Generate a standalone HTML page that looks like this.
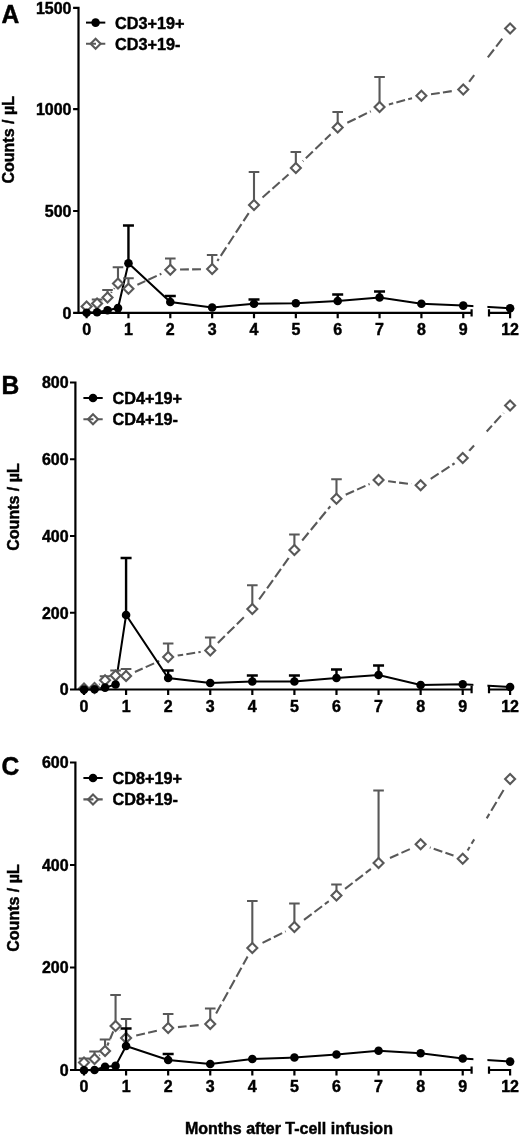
<!DOCTYPE html>
<html lang="en"><head><meta charset="utf-8"><title>T-cell counts after infusion</title>
<style>html,body{margin:0;padding:0;background:#fff}body{width:520px;height:1136px;overflow:hidden}svg{display:block}text{font-family:"Liberation Sans", Arial, sans-serif;font-weight:bold;fill:#000;stroke:#000;stroke-width:0.45px}</style>
</head><body>
<svg width="520" height="1136" viewBox="0 0 520 1136">
<defs><filter id="soft" x="0" y="0" width="520" height="1136" filterUnits="userSpaceOnUse"><feGaussianBlur stdDeviation="0.45"/></filter></defs>
<rect width="520" height="1136" fill="#fff"/>
<g filter="url(#soft)">
<g id="panel-A">
<g fill="none" stroke="#595959" stroke-width="2.1">
<line x1="86.6" y1="306.5" x2="97.06" y2="303.5" stroke-dasharray="9.04 3.26" stroke-dashoffset="3"/>
<line x1="97.06" y1="303.5" x2="107.52" y2="297.4" stroke-dasharray="9.38 3.38" stroke-dashoffset="3"/>
<line x1="107.52" y1="297.4" x2="117.99" y2="283.6" stroke-dasharray="10.06 3.63" stroke-dashoffset="3"/>
<line x1="117.99" y1="283.6" x2="128.45" y2="288.8" stroke-dasharray="9.27 3.34" stroke-dashoffset="3"/>
<line x1="128.45" y1="288.8" x2="170.3" y2="269.7" stroke-dasharray="9.22 3.33" stroke-dashoffset="3.25"/>
<line x1="170.3" y1="269.7" x2="212.15" y2="269" stroke-dasharray="8.89 3.21" stroke-dashoffset="2.4"/>
<line x1="212.15" y1="269" x2="254" y2="205" stroke-dasharray="10.17 3.67" stroke-dashoffset="11.98"/>
<line x1="254" y1="205" x2="295.85" y2="168" stroke-dasharray="9.71 3.5" stroke-dashoffset="1.82"/>
<line x1="295.85" y1="168" x2="337.7" y2="127.5" stroke-dasharray="9.79 3.53" stroke-dashoffset="12.75"/>
<line x1="337.7" y1="127.5" x2="379.55" y2="107" stroke-dasharray="9.26 3.34" stroke-dashoffset="1.9"/>
<line x1="379.55" y1="107" x2="421.4" y2="95.7" stroke-dasharray="9.03 3.25" stroke-dashoffset="7.16"/>
<line x1="421.4" y1="95.7" x2="463.25" y2="89.4" stroke-dasharray="8.94 3.22" stroke-dashoffset="2.56"/>
<line x1="463.25" y1="89.4" x2="474.2" y2="75.17" stroke-dasharray="10.05 3.62" stroke-dashoffset="5.67"/>
<line x1="486.7" y1="58.92" x2="510.1" y2="28.5" stroke-dasharray="10.05 3.62" stroke-dashoffset="11.83"/>
</g>
<g fill="#fff">
<circle cx="86.6" cy="306.5" r="6.0"/>
<circle cx="97.06" cy="303.5" r="6.0"/>
<circle cx="107.52" cy="297.4" r="6.0"/>
<circle cx="117.99" cy="283.6" r="6.0"/>
<circle cx="128.45" cy="288.8" r="9.8"/>
<circle cx="170.3" cy="269.7" r="9.8"/>
<circle cx="212.15" cy="269" r="9.8"/>
<circle cx="254" cy="205" r="9.8"/>
<circle cx="295.85" cy="168" r="9.8"/>
<circle cx="337.7" cy="127.5" r="9.8"/>
<circle cx="379.55" cy="107" r="9.8"/>
<circle cx="421.4" cy="95.7" r="9.8"/>
<circle cx="463.25" cy="89.4" r="9.8"/>
<circle cx="510.1" cy="28.5" r="9.8"/>
</g>
<polyline points="86.6,312.7 97.06,312.2 107.52,310.2 117.99,308.1 128.45,263.2 170.3,302 212.15,307.5 254,303.75 295.85,303.25 337.7,301 379.55,297.5 421.4,303.7 463.25,305.6 510.1,308.3" fill="none" stroke="#000" stroke-width="2.0"/>
<rect x="473.4" y="288.8" width="14" height="22" fill="#fff"/>
<g stroke="#595959" stroke-width="2.1" fill="#fff">
<path d="M97.06 303.5V299.5M91.76 299.5H102.36M107.52 297.4V290M102.22 290H112.82M117.99 283.6V267.2M112.69 267.2H123.29M128.45 288.8V278.3M123.15 278.3H133.75M170.3 269.7V258.5M165 258.5H175.6M212.15 269V255M206.85 255H217.45M254 205V172M248.7 172H259.3M295.85 168V152M290.55 152H301.15M337.7 127.5V112M332.4 112H343M379.55 107V77M374.25 77H384.85" fill="none"/>
<path d="M86.6 301.5L91.6 306.5L86.6 311.5L81.6 306.5Z"/>
<path d="M97.06 298.5L102.06 303.5L97.06 308.5L92.06 303.5Z"/>
<path d="M107.52 292.4L112.52 297.4L107.52 302.4L102.52 297.4Z"/>
<path d="M117.99 278.6L122.99 283.6L117.99 288.6L112.99 283.6Z"/>
<path d="M128.45 283.8L133.45 288.8L128.45 293.8L123.45 288.8Z"/>
<path d="M170.3 264.7L175.3 269.7L170.3 274.7L165.3 269.7Z"/>
<path d="M212.15 264L217.15 269L212.15 274L207.15 269Z"/>
<path d="M254 200L259 205L254 210L249 205Z"/>
<path d="M295.85 163L300.85 168L295.85 173L290.85 168Z"/>
<path d="M337.7 122.5L342.7 127.5L337.7 132.5L332.7 127.5Z"/>
<path d="M379.55 102L384.55 107L379.55 112L374.55 107Z"/>
<path d="M421.4 90.7L426.4 95.7L421.4 100.7L416.4 95.7Z"/>
<path d="M463.25 84.4L468.25 89.4L463.25 94.4L458.25 89.4Z"/>
<path d="M510.1 23.5L515.1 28.5L510.1 33.5L505.1 28.5Z"/>
</g>
<path d="M128.45 263.2V225.5M122.95 225.5H133.95M170.3 302V296M164.8 296H175.8M254 303.75V299.5M248.5 299.5H259.5M337.7 301V294.5M332.2 294.5H343.2M379.55 297.5V291.5M374.05 291.5H385.05" fill="none" stroke="#000" stroke-width="2.4"/>
<g fill="#000">
<circle cx="86.6" cy="312.7" r="4.3"/>
<circle cx="97.06" cy="312.2" r="4.3"/>
<circle cx="107.52" cy="310.2" r="4.3"/>
<circle cx="117.99" cy="308.1" r="4.3"/>
<circle cx="128.45" cy="263.2" r="4.3"/>
<circle cx="170.3" cy="302" r="4.3"/>
<circle cx="212.15" cy="307.5" r="4.3"/>
<circle cx="254" cy="303.75" r="4.3"/>
<circle cx="295.85" cy="303.25" r="4.3"/>
<circle cx="337.7" cy="301" r="4.3"/>
<circle cx="379.55" cy="297.5" r="4.3"/>
<circle cx="421.4" cy="303.7" r="4.3"/>
<circle cx="463.25" cy="305.6" r="4.3"/>
<circle cx="510.1" cy="308.3" r="4.3"/>
</g>
<path d="M78.5 6.7V313.9M73.1 7.8H78.5M73.1 109.2H78.5M73.1 211H78.5M73.1 312.8H78.5M78.5 312.8H471.6M471.6 309.3V316.6M489 312.8H511.2M489 309.3V316.6M86.6 312.8V318.2M128.45 312.8V318.2M170.3 312.8V318.2M212.15 312.8V318.2M254 312.8V318.2M295.85 312.8V318.2M337.7 312.8V318.2M379.55 312.8V318.2M421.4 312.8V318.2M463.25 312.8V318.2M510.1 312.8V318.2" stroke="#000" stroke-width="2.2" fill="none"/>
<g font-size="16" text-anchor="end">
<text transform="translate(71.5 13.75) scale(1 1.0)">1500</text>
<text transform="translate(71.5 115.15) scale(1 1.0)">1000</text>
<text transform="translate(71.5 216.95) scale(1 1.0)">500</text>
<text transform="translate(71.5 318.75) scale(1 1.0)">0</text>
</g>
<g font-size="16" text-anchor="middle">
<text transform="translate(86.6 335.1) scale(1 1.0)">0</text>
<text transform="translate(128.45 335.1) scale(1 1.0)">1</text>
<text transform="translate(170.3 335.1) scale(1 1.0)">2</text>
<text transform="translate(212.15 335.1) scale(1 1.0)">3</text>
<text transform="translate(254 335.1) scale(1 1.0)">4</text>
<text transform="translate(295.85 335.1) scale(1 1.0)">5</text>
<text transform="translate(337.7 335.1) scale(1 1.0)">6</text>
<text transform="translate(379.55 335.1) scale(1 1.0)">7</text>
<text transform="translate(421.4 335.1) scale(1 1.0)">8</text>
<text transform="translate(463.25 335.1) scale(1 1.0)">9</text>
<text transform="translate(510.1 335.1) scale(1 1.0)">12</text>
</g>
<text font-size="16" text-anchor="middle" transform="translate(14.2 139.8) rotate(-90)">Counts / µL</text>
<text font-size="24.6" transform="translate(1.4 22.9) scale(1 1.03)">A</text>
<path d="M86 22.6H105.3" stroke="#000" stroke-width="2.0"/>
<circle cx="95.6" cy="22.6" r="4.3" fill="#000"/>
<path d="M86 43.8H96M100.2 43.8H105.3" stroke="#595959" stroke-width="2.1"/>
<path d="M95.6 38.8L100.6 43.8L95.6 48.8L90.6 43.8Z" stroke="#595959" stroke-width="2.1" fill="none"/>
<g font-size="16.25">
<text x="115" y="28.6">CD3+19+</text>
<text x="115" y="49.5">CD3+19-</text>
</g>
</g>
<g id="panel-B">
<g fill="none" stroke="#595959" stroke-width="2.1">
<line x1="84" y1="688.6" x2="94.52" y2="688" stroke-dasharray="8.9 3.21" stroke-dashoffset="3"/>
<line x1="94.52" y1="688" x2="105.04" y2="680.3" stroke-dasharray="9.55 3.44" stroke-dashoffset="3"/>
<line x1="105.04" y1="680.3" x2="115.56" y2="675.5" stroke-dasharray="9.22 3.33" stroke-dashoffset="3"/>
<line x1="115.56" y1="675.5" x2="126.08" y2="676" stroke-dasharray="8.9 3.21" stroke-dashoffset="3"/>
<line x1="126.08" y1="676" x2="168.16" y2="657" stroke-dasharray="9.22 3.32" stroke-dashoffset="3.54"/>
<line x1="168.16" y1="657" x2="210.24" y2="650.5" stroke-dasharray="8.94 3.22" stroke-dashoffset="5.92"/>
<line x1="210.24" y1="650.5" x2="252.32" y2="609" stroke-dasharray="9.81 3.54" stroke-dashoffset="2.65"/>
<line x1="252.32" y1="609" x2="294.4" y2="550" stroke-dasharray="10.11 3.64" stroke-dashoffset="2.05"/>
<line x1="294.4" y1="550" x2="336.48" y2="498.8" stroke-dasharray="9.99 3.6" stroke-dashoffset="1.3"/>
<line x1="336.48" y1="498.8" x2="378.56" y2="480" stroke-dasharray="9.21 3.32" stroke-dashoffset="2.54"/>
<line x1="378.56" y1="480" x2="420.64" y2="485.3" stroke-dasharray="8.92 3.22" stroke-dashoffset="3.58"/>
<line x1="420.64" y1="485.3" x2="462.72" y2="458" stroke-dasharray="9.46 3.41" stroke-dashoffset="0.86"/>
<line x1="462.72" y1="458" x2="474.2" y2="445.28" stroke-dasharray="9.91 3.57" stroke-dashoffset="6.49"/>
<line x1="486.7" y1="431.43" x2="510.1" y2="405.5" stroke-dasharray="9.91 3.57" stroke-dashoffset="2.08"/>
</g>
<g fill="#fff">
<circle cx="84" cy="688.6" r="6.0"/>
<circle cx="94.52" cy="688" r="6.0"/>
<circle cx="105.04" cy="680.3" r="6.0"/>
<circle cx="115.56" cy="675.5" r="6.0"/>
<circle cx="126.08" cy="676" r="9.8"/>
<circle cx="168.16" cy="657" r="9.8"/>
<circle cx="210.24" cy="650.5" r="9.8"/>
<circle cx="252.32" cy="609" r="9.8"/>
<circle cx="294.4" cy="550" r="9.8"/>
<circle cx="336.48" cy="498.8" r="9.8"/>
<circle cx="378.56" cy="480" r="9.8"/>
<circle cx="420.64" cy="485.3" r="9.8"/>
<circle cx="462.72" cy="458" r="9.8"/>
<circle cx="510.1" cy="405.5" r="9.8"/>
</g>
<polyline points="84,689.6 94.52,689.3 105.04,687.6 115.56,684.5 126.08,615 168.16,678 210.24,683 252.32,681.5 294.4,681.5 336.48,678 378.56,675 420.64,685 462.72,684.2 510.1,687" fill="none" stroke="#000" stroke-width="2.0"/>
<rect x="473.4" y="665.5" width="14" height="22" fill="#fff"/>
<g stroke="#595959" stroke-width="2.1" fill="#fff">
<path d="M105.04 680.3V676.2M99.74 676.2H110.34M115.56 675.5V670.5M110.26 670.5H120.86M126.08 676V669M120.78 669H131.38M168.16 657V643.5M162.86 643.5H173.46M210.24 650.5V637.5M204.94 637.5H215.54M252.32 609V585.3M247.02 585.3H257.62M294.4 550V534.5M289.1 534.5H299.7M336.48 498.8V479.3M331.18 479.3H341.78" fill="none"/>
<path d="M84 683.6L89 688.6L84 693.6L79 688.6Z"/>
<path d="M94.52 683L99.52 688L94.52 693L89.52 688Z"/>
<path d="M105.04 675.3L110.04 680.3L105.04 685.3L100.04 680.3Z"/>
<path d="M115.56 670.5L120.56 675.5L115.56 680.5L110.56 675.5Z"/>
<path d="M126.08 671L131.08 676L126.08 681L121.08 676Z"/>
<path d="M168.16 652L173.16 657L168.16 662L163.16 657Z"/>
<path d="M210.24 645.5L215.24 650.5L210.24 655.5L205.24 650.5Z"/>
<path d="M252.32 604L257.32 609L252.32 614L247.32 609Z"/>
<path d="M294.4 545L299.4 550L294.4 555L289.4 550Z"/>
<path d="M336.48 493.8L341.48 498.8L336.48 503.8L331.48 498.8Z"/>
<path d="M378.56 475L383.56 480L378.56 485L373.56 480Z"/>
<path d="M420.64 480.3L425.64 485.3L420.64 490.3L415.64 485.3Z"/>
<path d="M462.72 453L467.72 458L462.72 463L457.72 458Z"/>
<path d="M510.1 400.5L515.1 405.5L510.1 410.5L505.1 405.5Z"/>
</g>
<path d="M126.08 615V558M120.58 558H131.58M168.16 678V670.5M162.66 670.5H173.66M252.32 681.5V675.5M246.82 675.5H257.82M294.4 681.5V675.5M288.9 675.5H299.9M336.48 678V669.5M330.98 669.5H341.98M378.56 675V665.5M373.06 665.5H384.06" fill="none" stroke="#000" stroke-width="2.4"/>
<g fill="#000">
<circle cx="84" cy="689.6" r="4.3"/>
<circle cx="94.52" cy="689.3" r="4.3"/>
<circle cx="105.04" cy="687.6" r="4.3"/>
<circle cx="115.56" cy="684.5" r="4.3"/>
<circle cx="126.08" cy="615" r="4.3"/>
<circle cx="168.16" cy="678" r="4.3"/>
<circle cx="210.24" cy="683" r="4.3"/>
<circle cx="252.32" cy="681.5" r="4.3"/>
<circle cx="294.4" cy="681.5" r="4.3"/>
<circle cx="336.48" cy="678" r="4.3"/>
<circle cx="378.56" cy="675" r="4.3"/>
<circle cx="420.64" cy="685" r="4.3"/>
<circle cx="462.72" cy="684.2" r="4.3"/>
<circle cx="510.1" cy="687" r="4.3"/>
</g>
<path d="M75.4 381.4V690.6M70 382.5H75.4M70 459.25H75.4M70 536H75.4M70 612.75H75.4M70 689.5H75.4M75.4 689.5H471.6M471.6 686V693.3M489 689.5H511.2M489 686V693.3M84 689.5V694.9M126.08 689.5V694.9M168.16 689.5V694.9M210.24 689.5V694.9M252.32 689.5V694.9M294.4 689.5V694.9M336.48 689.5V694.9M378.56 689.5V694.9M420.64 689.5V694.9M462.72 689.5V694.9M510.1 689.5V694.9" stroke="#000" stroke-width="2.2" fill="none"/>
<g font-size="16" text-anchor="end">
<text transform="translate(68.6 388.45) scale(1 1.0)">800</text>
<text transform="translate(68.6 465.2) scale(1 1.0)">600</text>
<text transform="translate(68.6 541.95) scale(1 1.0)">400</text>
<text transform="translate(68.6 618.7) scale(1 1.0)">200</text>
<text transform="translate(68.6 695.45) scale(1 1.0)">0</text>
</g>
<g font-size="16" text-anchor="middle">
<text transform="translate(84 711.8) scale(1 1.0)">0</text>
<text transform="translate(126.08 711.8) scale(1 1.0)">1</text>
<text transform="translate(168.16 711.8) scale(1 1.0)">2</text>
<text transform="translate(210.24 711.8) scale(1 1.0)">3</text>
<text transform="translate(252.32 711.8) scale(1 1.0)">4</text>
<text transform="translate(294.4 711.8) scale(1 1.0)">5</text>
<text transform="translate(336.48 711.8) scale(1 1.0)">6</text>
<text transform="translate(378.56 711.8) scale(1 1.0)">7</text>
<text transform="translate(420.64 711.8) scale(1 1.0)">8</text>
<text transform="translate(462.72 711.8) scale(1 1.0)">9</text>
<text transform="translate(510.1 711.8) scale(1 1.0)">12</text>
</g>
<text font-size="16" text-anchor="middle" transform="translate(18.8 507) rotate(-90)">Counts / µL</text>
<text font-size="24.6" transform="translate(1.5 394.3) scale(1 1.03)">B</text>
<path d="M83.4 398H102.7" stroke="#000" stroke-width="2.0"/>
<circle cx="93" cy="398" r="4.3" fill="#000"/>
<path d="M83.4 419.2H93.4M97.6 419.2H102.7" stroke="#595959" stroke-width="2.1"/>
<path d="M93 414.2L98 419.2L93 424.2L88 419.2Z" stroke="#595959" stroke-width="2.1" fill="none"/>
<g font-size="16.25">
<text x="112.5" y="404">CD4+19+</text>
<text x="112.5" y="424.9">CD4+19-</text>
</g>
</g>
<g id="panel-C">
<g fill="none" stroke="#595959" stroke-width="2.1">
<line x1="84" y1="1062.5" x2="94.52" y2="1059" stroke-dasharray="9.09 3.28" stroke-dashoffset="3"/>
<line x1="94.52" y1="1059" x2="105.04" y2="1051" stroke-dasharray="9.58 3.46" stroke-dashoffset="3"/>
<line x1="105.04" y1="1051" x2="115.56" y2="1026" stroke-dasharray="10.42 3.76" stroke-dashoffset="1.18"/>
<line x1="115.56" y1="1026" x2="126.08" y2="1038" stroke-dasharray="9.94 3.58" stroke-dashoffset="8.02"/>
<line x1="126.08" y1="1038" x2="168.16" y2="1028" stroke-dasharray="9 3.24" stroke-dashoffset="1.84"/>
<line x1="168.16" y1="1028" x2="210.24" y2="1024" stroke-dasharray="8.91 3.21" stroke-dashoffset="2.52"/>
<line x1="210.24" y1="1024" x2="252.32" y2="948" stroke-dasharray="10.28 3.71" stroke-dashoffset="1.89"/>
<line x1="252.32" y1="948" x2="294.4" y2="927" stroke-dasharray="9.28 3.34" stroke-dashoffset="1.22"/>
<line x1="294.4" y1="927" x2="336.48" y2="895.5" stroke-dasharray="9.57 3.45" stroke-dashoffset="1.02"/>
<line x1="336.48" y1="895.5" x2="378.56" y2="863" stroke-dasharray="9.6 3.46" stroke-dashoffset="2.26"/>
<line x1="378.56" y1="863" x2="420.64" y2="844.3" stroke-dasharray="9.21 3.32" stroke-dashoffset="0.03"/>
<line x1="420.64" y1="844.3" x2="462.72" y2="858.7" stroke-dasharray="9.1 3.28" stroke-dashoffset="10.95"/>
<line x1="462.72" y1="858.7" x2="474.2" y2="839.39" stroke-dasharray="10.24 3.69" stroke-dashoffset="10.56"/>
<line x1="486.7" y1="818.36" x2="510.1" y2="779" stroke-dasharray="10.24 3.69" stroke-dashoffset="5.06"/>
</g>
<g fill="#fff">
<circle cx="84" cy="1062.5" r="6.0"/>
<circle cx="94.52" cy="1059" r="6.0"/>
<circle cx="105.04" cy="1051" r="6.0"/>
<circle cx="115.56" cy="1026" r="6.0"/>
<circle cx="126.08" cy="1038" r="9.8"/>
<circle cx="168.16" cy="1028" r="9.8"/>
<circle cx="210.24" cy="1024" r="9.8"/>
<circle cx="252.32" cy="948" r="9.8"/>
<circle cx="294.4" cy="927" r="9.8"/>
<circle cx="336.48" cy="895.5" r="9.8"/>
<circle cx="378.56" cy="863" r="9.8"/>
<circle cx="420.64" cy="844.3" r="9.8"/>
<circle cx="462.72" cy="858.7" r="9.8"/>
<circle cx="510.1" cy="779" r="9.8"/>
</g>
<polyline points="84,1070.2 94.52,1070 105.04,1066.8 115.56,1065.9 126.08,1046 168.16,1060 210.24,1064 252.32,1059 294.4,1057.5 336.48,1054.5 378.56,1050.7 420.64,1053.3 462.72,1058.5 510.1,1061.6" fill="none" stroke="#000" stroke-width="2.0"/>
<rect x="473.4" y="1046" width="14" height="22" fill="#fff"/>
<g stroke="#595959" stroke-width="2.1" fill="#fff">
<path d="M84 1062.5V1058.5M78.7 1058.5H89.3M94.52 1059V1051.5M89.22 1051.5H99.82M105.04 1051V1039.5M99.74 1039.5H110.34M115.56 1026V995M110.26 995H120.86M126.08 1038V1019M120.78 1019H131.38M168.16 1028V1014M162.86 1014H173.46M210.24 1024V1008.5M204.94 1008.5H215.54M252.32 948V901M247.02 901H257.62M294.4 927V903.5M289.1 903.5H299.7M336.48 895.5V884.5M331.18 884.5H341.78M378.56 863V790.5M373.26 790.5H383.86" fill="none"/>
<path d="M84 1057.5L89 1062.5L84 1067.5L79 1062.5Z"/>
<path d="M94.52 1054L99.52 1059L94.52 1064L89.52 1059Z"/>
<path d="M105.04 1046L110.04 1051L105.04 1056L100.04 1051Z"/>
<path d="M115.56 1021L120.56 1026L115.56 1031L110.56 1026Z"/>
<path d="M126.08 1033L131.08 1038L126.08 1043L121.08 1038Z"/>
<path d="M168.16 1023L173.16 1028L168.16 1033L163.16 1028Z"/>
<path d="M210.24 1019L215.24 1024L210.24 1029L205.24 1024Z"/>
<path d="M252.32 943L257.32 948L252.32 953L247.32 948Z"/>
<path d="M294.4 922L299.4 927L294.4 932L289.4 927Z"/>
<path d="M336.48 890.5L341.48 895.5L336.48 900.5L331.48 895.5Z"/>
<path d="M378.56 858L383.56 863L378.56 868L373.56 863Z"/>
<path d="M420.64 839.3L425.64 844.3L420.64 849.3L415.64 844.3Z"/>
<path d="M462.72 853.7L467.72 858.7L462.72 863.7L457.72 858.7Z"/>
<path d="M510.1 774L515.1 779L510.1 784L505.1 779Z"/>
</g>
<path d="M126.08 1046V1028.5M120.58 1028.5H131.58M168.16 1060V1054M162.66 1054H173.66" fill="none" stroke="#000" stroke-width="2.4"/>
<g fill="#000">
<circle cx="84" cy="1070.2" r="4.3"/>
<circle cx="94.52" cy="1070" r="4.3"/>
<circle cx="105.04" cy="1066.8" r="4.3"/>
<circle cx="115.56" cy="1065.9" r="4.3"/>
<circle cx="126.08" cy="1046" r="4.3"/>
<circle cx="168.16" cy="1060" r="4.3"/>
<circle cx="210.24" cy="1064" r="4.3"/>
<circle cx="252.32" cy="1059" r="4.3"/>
<circle cx="294.4" cy="1057.5" r="4.3"/>
<circle cx="336.48" cy="1054.5" r="4.3"/>
<circle cx="378.56" cy="1050.7" r="4.3"/>
<circle cx="420.64" cy="1053.3" r="4.3"/>
<circle cx="462.72" cy="1058.5" r="4.3"/>
<circle cx="510.1" cy="1061.6" r="4.3"/>
</g>
<path d="M75.4 761.4V1071.1M70 762.5H75.4M70 865H75.4M70 967.5H75.4M70 1070H75.4M75.4 1070H471.6M471.6 1066.5V1073.8M489 1070H511.2M489 1066.5V1073.8M84 1070V1075.4M126.08 1070V1075.4M168.16 1070V1075.4M210.24 1070V1075.4M252.32 1070V1075.4M294.4 1070V1075.4M336.48 1070V1075.4M378.56 1070V1075.4M420.64 1070V1075.4M462.72 1070V1075.4M510.1 1070V1075.4" stroke="#000" stroke-width="2.2" fill="none"/>
<g font-size="16" text-anchor="end">
<text transform="translate(68.6 768.45) scale(1 1.0)">600</text>
<text transform="translate(68.6 870.95) scale(1 1.0)">400</text>
<text transform="translate(68.6 973.45) scale(1 1.0)">200</text>
<text transform="translate(68.6 1075.95) scale(1 1.0)">0</text>
</g>
<g font-size="16" text-anchor="middle">
<text transform="translate(84 1092.3) scale(1 1.0)">0</text>
<text transform="translate(126.08 1092.3) scale(1 1.0)">1</text>
<text transform="translate(168.16 1092.3) scale(1 1.0)">2</text>
<text transform="translate(210.24 1092.3) scale(1 1.0)">3</text>
<text transform="translate(252.32 1092.3) scale(1 1.0)">4</text>
<text transform="translate(294.4 1092.3) scale(1 1.0)">5</text>
<text transform="translate(336.48 1092.3) scale(1 1.0)">6</text>
<text transform="translate(378.56 1092.3) scale(1 1.0)">7</text>
<text transform="translate(420.64 1092.3) scale(1 1.0)">8</text>
<text transform="translate(462.72 1092.3) scale(1 1.0)">9</text>
<text transform="translate(510.1 1092.3) scale(1 1.0)">12</text>
</g>
<text font-size="16" text-anchor="middle" transform="translate(18.8 908) rotate(-90)">Counts / µL</text>
<text font-size="24.6" transform="translate(1.5 775.4) scale(1 1.03)">C</text>
<path d="M83.4 778H102.7" stroke="#000" stroke-width="2.0"/>
<circle cx="93" cy="778" r="4.3" fill="#000"/>
<path d="M83.4 799.4H93.4M97.6 799.4H102.7" stroke="#595959" stroke-width="2.1"/>
<path d="M93 794.4L98 799.4L93 804.4L88 799.4Z" stroke="#595959" stroke-width="2.1" fill="none"/>
<g font-size="16.25">
<text x="112.5" y="784">CD8+19+</text>
<text x="112.5" y="805.1">CD8+19-</text>
</g>
</g>
<text font-size="16" x="184.9" y="1134">Months after T-cell infusion</text>
</g>
</svg>
</body></html>
